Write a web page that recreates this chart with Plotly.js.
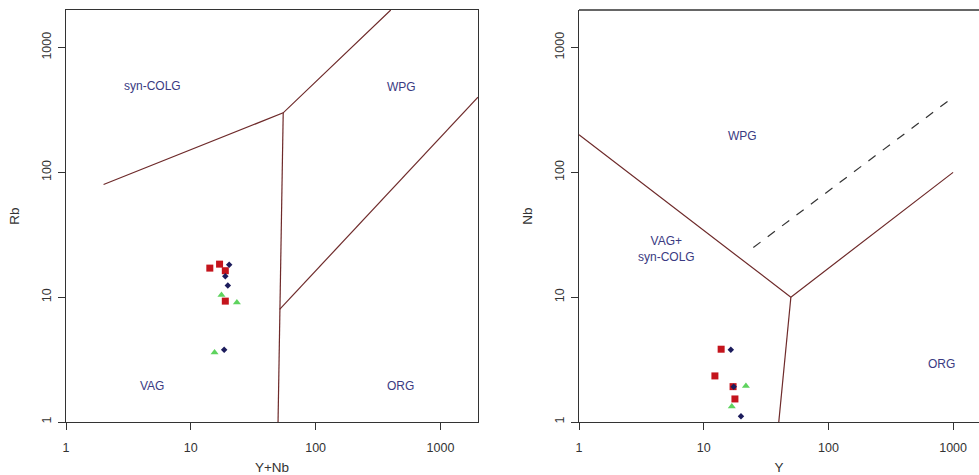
<!DOCTYPE html>
<html>
<head>
<meta charset="utf-8">
<script src="https://cdn.plot.ly/plotly-3.0.1.min.js"></script>
<style>html,body{margin:0;padding:0;background:#fff;overflow:hidden}#chart{width:979px;height:475px}</style>
</head>
<body>
<div id="chart"></div>
<script>
// ---- Sample data (left: Rb vs Y+Nb) ----
const redYNb   = [14.2, 17.0, 18.9, 18.9];
const redRb    = [17.1, 18.4, 16.3, 9.3];
const blueYNb  = [20.3, 18.9, 19.8, 18.5];
const blueRb   = [18.2, 14.7, 12.4, 3.8];
const greenYNb = [17.6, 23.4, 15.5];
const greenRb  = [10.4, 9.05, 3.6];

// ---- Sample data (right: Nb vs Y) ----
const redY   = [13.8, 12.3, 17.2, 17.8];
const redNb  = [3.83, 2.34, 1.92, 1.53];
const blueY  = [16.5, 17.4, 19.9];
const blueNb = [3.8, 1.92, 1.11];
const greenY  = [21.8, 16.8];
const greenNb = [1.94, 1.33];

// ---- Field boundaries (Pearce et al. 1984) ----
const lA_x = [2, 55, 400];      const lA_y = [80, 300, 2000];
const lB_x = [55, 51.5, 50];    const lB_y = [300, 8, 1];
const lC_x = [51.5, 2000];      const lC_y = [8, 400];
const rA_x = [1, 50, 1000];     const rA_y = [200, 10, 100];
const rB_x = [50, 40];          const rB_y = [10, 1];
const rD_x = [25, 1000];        const rD_y = [25, 400];

// ---- Field labels ----
const leftLabels  = ["syn-COLG", "WPG", "VAG", "ORG"];
const leftLabX    = [4.9, 487, 4.9, 476];
const leftLabY    = [494, 486, 1.95, 1.95];
const rightLabels = ["WPG", "VAG+<br>syn-COLG", "ORG"];
const rightLabX   = [20.3, 5.0, 800];
const rightLabY   = [196, 24.4, 2.92];

const tickVals = [1, 10, 100, 1000];
const tickText = ["1", "10", "100", "1000"];

const lineCol = "#6e2a2a";
const labCol = "#3a3a82";
const red = "#c4141c", navy = "#1c1c5c", green = "#5ed35e";
const font = "Liberation Sans, Arial, sans-serif";

function pts(x, y, xa, ya, sym, col, size) {
  return {x: x, y: y, xaxis: xa, yaxis: ya, mode: "markers", type: "scatter",
    marker: {symbol: sym, color: col, size: size, line: {width: 0}}, hoverinfo: "x+y"};
}
function ln(x, y, xa, ya, dash) {
  return {x: x, y: y, xaxis: xa, yaxis: ya, mode: "lines", type: "scatter",
    line: {color: dash ? "#333" : lineCol, width: 1.2, dash: dash ? "dash" : "solid"}, hoverinfo: "skip"};
}

const traces = [
  ln(lA_x, lA_y, "x", "y"), ln(lB_x, lB_y, "x", "y"), ln(lC_x, lC_y, "x", "y"),
  ln(rA_x, rA_y, "x2", "y2"), ln(rB_x, rB_y, "x2", "y2"), ln(rD_x, rD_y, "x2", "y2", true),
  pts(redYNb, redRb, "x", "y", "square", red, 7),
  pts(blueYNb, blueRb, "x", "y", "diamond", navy, 5),
  pts(greenYNb, greenRb, "x", "y", "triangle-up", green, 7),
  pts(redY, redNb, "x2", "y2", "square", red, 7),
  pts(blueY, blueNb, "x2", "y2", "diamond", navy, 5),
  pts(greenY, greenNb, "x2", "y2", "triangle-up", green, 7)
];

const W = 979, H = 475;
const yDom = [(H - 422) / H, (H - 10) / H];

function axisCommon() {
  return {type: "log", tickmode: "array", tickvals: tickVals, ticktext: tickText,
    ticks: "outside", ticklen: 7, tickwidth: 1, tickcolor: "#333",
    showgrid: false, zeroline: false, showline: true, linecolor: "#333", linewidth: 1.3,
    tickfont: {family: font, size: 12.5, color: "#333"}, fixedrange: true};
}

const xaxis = Object.assign(axisCommon(), {domain: [66 / W, 478 / W], range: [0, Math.log10(2000)], anchor: "y", mirror: true,
  ticklabelstandoff: 7,
  title: {text: "Y+Nb", font: {family: font, size: 13.5, color: "#333"}, standoff: 20}});
const yaxis = Object.assign(axisCommon(), {domain: yDom, range: [0, Math.log10(2000)], anchor: "x", mirror: true, tickangle: -90,
  ticklabelstandoff: 2,
  title: {text: "Rb", font: {family: font, size: 13.5, color: "#333"}, standoff: 17}});
const xaxis2 = Object.assign(axisCommon(), {domain: [579 / W, 1], range: [0, 400 / 124.7], anchor: "y2",
  ticklabelstandoff: 7,
  title: {text: "Y", font: {family: font, size: 13.5, color: "#333"}, standoff: 20}});
const yaxis2 = Object.assign(axisCommon(), {domain: yDom, range: [0, Math.log10(2000)], anchor: "x2", tickangle: -90,
  ticklabelstandoff: 2,
  title: {text: "Nb", font: {family: font, size: 13.5, color: "#333"}, standoff: 17}});

const annotations = [];
leftLabels.forEach((t, i) => annotations.push({text: t, x: Math.log10(leftLabX[i]), y: Math.log10(leftLabY[i]),
  xref: "x", yref: "y", showarrow: false, font: {family: font, size: 12, color: labCol}}));
rightLabels.forEach((t, i) => annotations.push({text: t, x: Math.log10(rightLabX[i]), y: Math.log10(rightLabY[i]),
  xref: "x2", yref: "y2", showarrow: false, font: {family: font, size: 12, color: labCol}}));

const layout = {
  width: W, height: H, margin: {l: 0, r: 0, t: 0, b: 0},
  paper_bgcolor: "#fff", plot_bgcolor: "#fff", showlegend: false,
  xaxis: xaxis, yaxis: yaxis, xaxis2: xaxis2, yaxis2: yaxis2,
  annotations: annotations,
  shapes: [{type: "line", xref: "x2 domain", yref: "y2 domain", x0: 0, x1: 1.01, y0: 1, y1: 1,
    line: {color: "#333", width: 1.3}}]
};

Plotly.newPlot("chart", traces, layout, {displayModeBar: false, staticPlot: true});
</script>
</body>
</html>
